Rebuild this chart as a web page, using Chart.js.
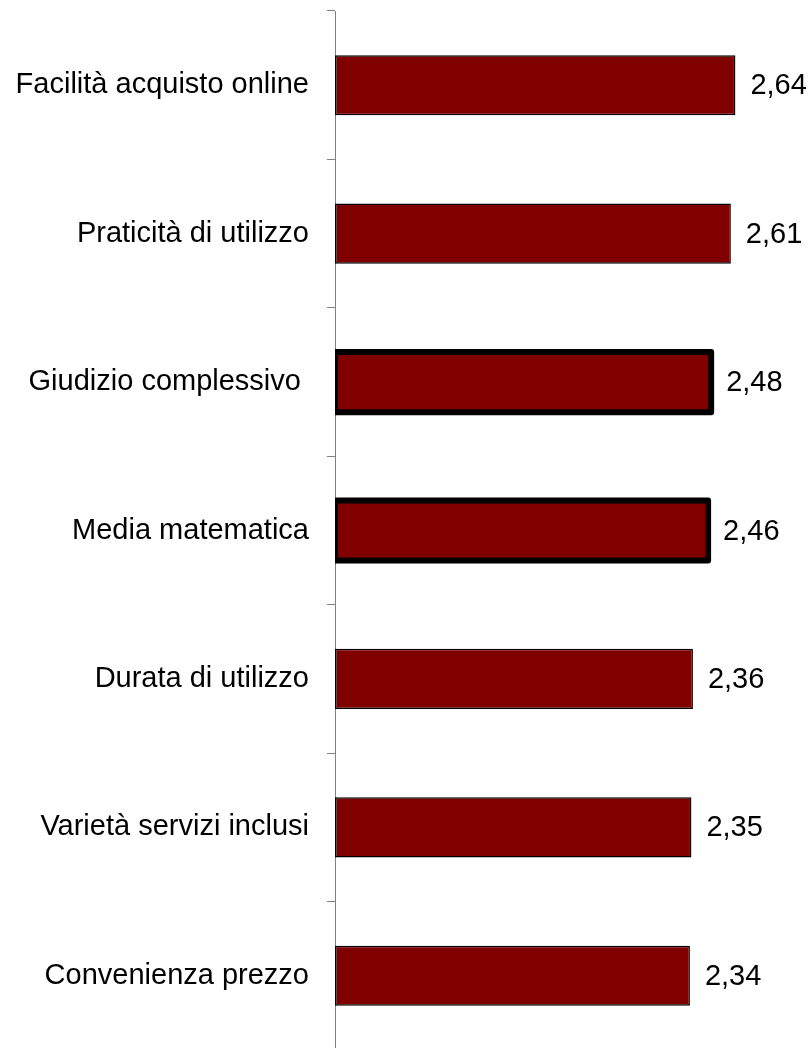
<!DOCTYPE html>
<html lang="it">
<head>
    <meta charset="UTF-8">
    <title>Valutazioni medie</title>
    <script src="https://cdn.jsdelivr.net/npm/chart.js"></script>
    <style>
        html, body {
            margin: 0;
            padding: 0;
            background: #ffffff;
            overflow: hidden;
        }

        #wrap {
            width: 808px;
            height: 1050px;
        }
    </style>
</head>
<body>
    <div id="wrap"><canvas id="ratingChart"></canvas></div>

    <script>
        // Ratings by aspect (scale max 3)
        const categories = [
            "Facilità acquisto online",
            "Praticità di utilizzo",
            "Giudizio complessivo ",
            "Media matematica",
            "Durata di utilizzo",
            "Varietà servizi inclusi",
            "Convenienza prezzo"
        ];
        const ratings = [2.64, 2.61, 2.48, 2.46, 2.36, 2.35, 2.34];
        // summary rows get the heavy outline
        const highlighted = [false, false, true, true, false, false, false];

        const FONT = "'Liberation Sans', Arial, sans-serif";

        // thick outline for summary bars, centred on the bar edge
        const outlinePlugin = {
            id: "outline",
            afterDatasetsDraw(chart) {
                const ctx = chart.ctx;
                const area = chart.chartArea;
                const bars = chart.getDatasetMeta(0).data;
                ctx.save();
                ctx.beginPath();
                ctx.rect(area.left, 0, chart.width - area.left, chart.height);
                ctx.clip();
                ctx.strokeStyle = "#000000";
                ctx.lineWidth = 6;
                ctx.lineJoin = "round";
                bars.forEach((bar, i) => {
                    if (!highlighted[i]) return;
                    const half = bar.height / 2;
                    ctx.strokeRect(bar.base, bar.y - half, bar.x - bar.base, bar.height);
                });
                ctx.restore();
            }
        };

        // value labels to the right of each bar, decimal comma
        const valueLabels = {
            id: "valueLabels",
            afterDatasetsDraw(chart) {
                const ctx = chart.ctx;
                const bars = chart.getDatasetMeta(0).data;
                ctx.save();
                ctx.font = "29px " + FONT;
                ctx.fillStyle = "#000000";
                ctx.textAlign = "left";
                ctx.textBaseline = "middle";
                bars.forEach((bar, i) => {
                    const text = ratings[i].toFixed(2).replace(".", ",");
                    ctx.fillText(text, bar.x + 15, bar.y + 1);
                });
                ctx.restore();
            }
        };

        const ctx = document.getElementById("ratingChart").getContext("2d");
        new Chart(ctx, {
            type: "bar",
            data: {
                labels: categories,
                datasets: [{
                    data: ratings,
                    backgroundColor: "#800000",
                    borderColor: "#000000",
                    borderWidth: highlighted.map(h => h ? 0 : 1.5),
                    borderSkipped: false,
                    barPercentage: 0.405,
                    categoryPercentage: 1
                }]
            },
            options: {
                indexAxis: "y",
                responsive: true,
                maintainAspectRatio: false,
                animation: false,
                layout: {
                    padding: { top: 11, right: 18, bottom: 0, left: 0 }
                },
                plugins: {
                    legend: { display: false },
                    tooltip: { enabled: false }
                },
                scales: {
                    x: {
                        display: false,
                        min: 0,
                        max: 3
                    },
                    y: {
                        afterFit(scale) {
                            scale.width = 335;
                            scale.paddingTop = 0;
                            scale.paddingBottom = 0;
                        },
                        border: {
                            display: true,
                            color: "#808080",
                            width: 1
                        },
                        grid: {
                            offset: true,
                            drawOnChartArea: false,
                            drawTicks: true,
                            tickLength: 8,
                            color: "#808080"
                        },
                        ticks: {
                            color: "#000000",
                            padding: 18,
                            font: { family: FONT, size: 29 }
                        }
                    }
                }
            },
            plugins: [outlinePlugin, valueLabels]
        });
    </script>
</body>
</html>
